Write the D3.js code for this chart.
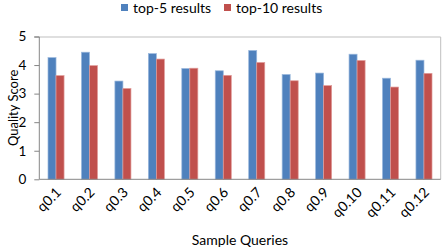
<!DOCTYPE html>
<html lang="en">
<head>
  <meta charset="UTF-8">
  <script src="https://d3js.org/d3.v7.min.js"></script>
  <title>Quality Score</title>
  <style>
    body { margin: 0; background: #fff; }
    text { font-family: Lato, "Open Sans", sans-serif; fill: #000; }
  </style>
</head>
<body>
  <div id="wrapper"></div>
  <script>
    const queries = ["q0.1", "q0.2", "q0.3", "q0.4", "q0.5", "q0.6", "q0.7", "q0.8", "q0.9", "q0.10", "q0.11", "q0.12"]
    const top5 = [4.26, 4.45, 3.44, 4.40, 3.88, 3.80, 4.51, 3.67, 3.72, 4.38, 3.54, 4.17]
    const top10 = [3.63, 3.98, 3.18, 4.21, 3.89, 3.64, 4.09, 3.45, 3.28, 4.16, 3.23, 3.71]
    const seriesNames = ["top-5 results", "top-10 results"]
    const yTicks = [0, 1, 2, 3, 4, 5]

    const dimensions = {
      width: 443,
      height: 250,
      margin: { top: 36.5, right: 2.3, bottom: 70.7, left: 39.3 }
    }
    dimensions.boundedWidth = dimensions.width - dimensions.margin.left - dimensions.margin.right
    dimensions.boundedHeight = dimensions.height - dimensions.margin.top - dimensions.margin.bottom

    const colors = ["#4f81bd", "#c0504d"]
    const strokes = ["#9ab8dd", "#e09c9a"]

    const svg = d3.select("#wrapper")
        .append("svg")
        .attr("width", dimensions.width)
        .attr("height", dimensions.height)

    const bounds = svg.append("g")
        .attr("transform", `translate(${dimensions.margin.left}, ${dimensions.margin.top})`)

    const xScale = d3.scaleBand()
        .domain(queries)
        .range([0, dimensions.boundedWidth])
        .paddingInner(0.52)
        .paddingOuter(0.26)

    const subScale = d3.scaleBand()
        .domain([0, 1])
        .range([0, xScale.bandwidth()])

    const yScale = d3.scaleLinear()
        .domain([0, 5])
        .range([dimensions.boundedHeight, 0])

    // plot border (top + right)
    bounds.append("path")
        .attr("d", `M0,0.5H${dimensions.boundedWidth}V${dimensions.boundedHeight}`)
        .attr("fill", "none")
        .attr("stroke", "#bfbfbf")

    const data = queries.map((q, i) => ({ q, values: [top5[i], top10[i]] }))

    const groups = bounds.selectAll(".grp")
        .data(data)
        .enter()
        .append("g")
        .attr("transform", d => `translate(${xScale(d.q)}, 0)`)

    groups.selectAll("rect")
        .data(d => d.values.map((v, k) => ({ v, k })))
        .enter()
        .append("rect")
        .attr("x", d => subScale(d.k))
        .attr("y", d => yScale(d.v))
        .attr("width", subScale.bandwidth())
        .attr("height", d => dimensions.boundedHeight - yScale(d.v))
        .attr("fill", d => colors[d.k])
        .attr("stroke", d => strokes[d.k])
        .attr("stroke-width", 0.7)

    /* axes */
    const yAxis = bounds.append("g")
        .call(d3.axisLeft(yScale).tickValues(yTicks).tickFormat(d3.format("d")).tickSize(5).tickPadding(8))
    yAxis.select(".domain").attr("stroke", "#868686").attr("d", `M-5,0.5H0V${dimensions.boundedHeight}`)
    yAxis.selectAll("line").attr("stroke", "#868686")
    yAxis.selectAll("text").style("font-size", "13.5px")

    const xAxis = bounds.append("g")
        .attr("transform", `translate(0, ${dimensions.boundedHeight})`)
        .call(d3.axisBottom(xScale).tickSize(0).tickPadding(0))
    xAxis.select(".domain").attr("stroke", "#868686").attr("d", `M0,0H${dimensions.boundedWidth}`)
    xAxis.selectAll("text")
        .style("font-size", "14px")
        .attr("text-anchor", "end")
        .attr("dy", 0)
        .attr("y", 0)
        .attr("transform", "translate(6, 14) rotate(-45)")

    svg.append("text")
        .attr("x", dimensions.margin.left + dimensions.boundedWidth / 2)
        .attr("y", 245)
        .attr("text-anchor", "middle")
        .style("font-size", "14px")
        .text("Sample Queries")

    svg.append("text")
        .attr("transform", `translate(18, ${dimensions.margin.top + dimensions.boundedHeight / 2}) rotate(-90)`)
        .attr("text-anchor", "middle")
        .style("font-size", "13px")
        .text("Quality Score")

    /* legend */
    const legend = svg.append("g").attr("transform", "translate(121, 0)")
    const legendX = [0, 103]
    seriesNames.forEach((name, i) => {
      legend.append("rect")
          .attr("x", legendX[i]).attr("y", 4)
          .attr("width", 7).attr("height", 7)
          .attr("fill", colors[i])
      legend.append("text")
          .attr("x", legendX[i] + 12).attr("y", 12.5)
          .style("font-size", "14px")
          .text(name)
    })
  </script>
</body>
</html>
